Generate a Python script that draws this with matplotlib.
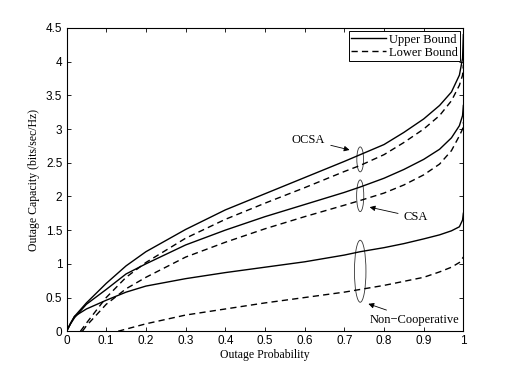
import numpy as np
import matplotlib
matplotlib.use("Agg")
import matplotlib.pyplot as plt
from matplotlib.patches import Ellipse

# valeurs
x_up = [0, 0.01, 0.02, 0.05, 0.1, 0.15, 0.2, 0.3, 0.4, 0.5, 0.6, 0.7, 0.74,
        0.8, 0.85, 0.9, 0.94, 0.97, 0.99, 0.998, 1.0]
ocsa_up = [0, 0.11, 0.22, 0.42, 0.71, 0.97, 1.18, 1.51, 1.8, 2.04, 2.28, 2.52, 2.62,
           2.77, 2.95, 3.15, 3.35, 3.55, 3.8, 4.05, 4.4]
csa_up = [0, 0.11, 0.2, 0.4, 0.62, 0.85, 1.0, 1.28, 1.5, 1.7, 1.88, 2.06, 2.14,
          2.27, 2.4, 2.55, 2.7, 2.87, 3.05, 3.2, 3.35]
nc_up = [0, 0.12, 0.22, 0.33, 0.46, 0.58, 0.67, 0.78, 0.87, 0.95, 1.03, 1.13, 1.18,
         1.24, 1.3, 1.37, 1.43, 1.49, 1.55, 1.65, 1.75]

x_ocsa_lo = [0.035, 0.05, 0.1, 0.15, 0.2, 0.3, 0.4, 0.5, 0.6, 0.7, 0.74,
             0.8, 0.85, 0.9, 0.94, 0.97, 0.99, 0.998, 1.0]
ocsa_lo = [0, 0.12, 0.5, 0.8, 1.02, 1.38, 1.66, 1.9, 2.13, 2.37, 2.46,
           2.62, 2.8, 3.0, 3.2, 3.42, 3.65, 3.8, 3.95]
x_csa_lo = [0.04, 0.05, 0.1, 0.15, 0.2, 0.3, 0.4, 0.5, 0.6, 0.7, 0.74,
            0.8, 0.85, 0.9, 0.94, 0.97, 0.99, 0.998, 1.0]
csa_lo = [0, 0.08, 0.4, 0.63, 0.8, 1.1, 1.32, 1.52, 1.7, 1.87, 1.94,
          2.05, 2.17, 2.32, 2.48, 2.68, 2.9, 3.0, 3.1]
x_nc_lo = [0.13, 0.2, 0.3, 0.4, 0.5, 0.6, 0.7, 0.74, 0.8, 0.85, 0.9, 0.94, 0.97, 0.99, 1.0]
nc_lo = [0, 0.11, 0.24, 0.33, 0.42, 0.5, 0.58, 0.62, 0.68, 0.74, 0.8, 0.88, 0.95, 1.02, 1.1]

xticks = np.arange(0, 1.01, 0.1)
yticks = np.arange(0, 4.51, 0.5)

serif = "Liberation Serif"
sans = "Liberation Sans"

fig = plt.figure(figsize=(5.12, 3.73), dpi=100)
ax = fig.add_axes([0.13, 0.112, 0.775, 0.813])

ls_lo = (0, (4.5, 3))
ax.plot(x_up, ocsa_up, 'k-', lw=1.0, label='Upper Bound')
ax.plot(x_ocsa_lo, ocsa_lo, 'k', ls=ls_lo, lw=1.0, label='Lower Bound')
ax.plot(x_up, csa_up, 'k-', lw=1.0)
ax.plot(x_csa_lo, csa_lo, 'k', ls=ls_lo, lw=1.0)
ax.plot(x_up, nc_up, 'k-', lw=1.0)
ax.plot(x_nc_lo, nc_lo, 'k', ls=ls_lo, lw=1.0)

# ellipses autour des courbes
for yc, h, w in [(2.55, 0.37, 0.017), (2.01, 0.47, 0.018), (0.89, 0.92, 0.029)]:
    ax.add_patch(Ellipse((0.74, yc), w, h, fill=False, lw=0.6, ec='0.2'))

arr = dict(arrowstyle='-|>', color='k', lw=0.6, mutation_scale=8)
ax.annotate('OCSA', xy=(0.72, 2.68), xytext=(0.61, 2.84), ha='center', va='center',
            fontsize=9, family=serif, arrowprops=arr)
ax.annotate('CSA', xy=(0.757, 1.85), xytext=(0.88, 1.69), ha='center', va='center',
            fontsize=9, family=serif, arrowprops=arr)
ax.annotate('Non\u2212Cooperative', xy=(0.754, 0.42), xytext=(0.877, 0.17),
            ha='center', va='center', fontsize=9, family=serif, arrowprops=arr)

ax.set_xlim(0, 1)
ax.set_ylim(0, 4.5)
ax.set_xticks(xticks)
ax.set_yticks(yticks)
ax.set_xticklabels(['0', '0.1', '0.2', '0.3', '0.4', '0.5', '0.6', '0.7', '0.8', '0.9', '1'])
ax.set_yticklabels(['0', '0.5', '1', '1.5', '2', '2.5', '3', '3.5', '4', '4.5'])
ax.tick_params(direction='in', top=True, right=True, length=3, width=0.6,
               labelsize=8.5, pad=3)
for t in ax.get_xticklabels() + ax.get_yticklabels():
    t.set_family(sans)
for s in ax.spines.values():
    s.set_linewidth(0.8)

ax.set_xlabel('Outage Probability', fontsize=8.5, family=serif, labelpad=1)
ax.set_ylabel('Outage Capacity (bits/sec/Hz)', fontsize=8.5, family=serif, labelpad=4)

leg = ax.legend(loc='upper right', fancybox=False, framealpha=1, edgecolor='k',
                prop={'family': serif, 'size': 9}, handlelength=2.8,
                borderaxespad=0.25, borderpad=0.2, labelspacing=0.1, handletextpad=0.2)
leg.get_frame().set_linewidth(0.7)

fig.savefig('out.png', dpi=100)
